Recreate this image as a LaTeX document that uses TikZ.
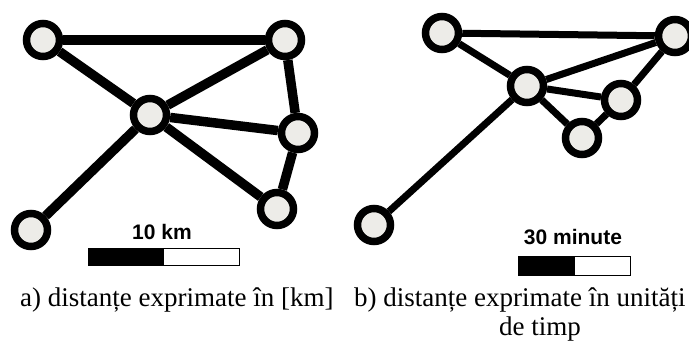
\documentclass[tikz,border=0pt]{standalone}
\usepackage{fontspec}
\setmainfont{Liberation Serif}
\newfontfamily\barfont{Liberation Sans}
\definecolor{nodefill}{HTML}{EDECE8}
\begin{document}
\begin{tikzpicture}[x=1pt, y=-1pt,
  town/.style={circle, draw=black, fill=nodefill, line width=7.5pt, minimum size=33pt, inner sep=0pt},
  road/.style={line width=9.5pt},
  link/.style={line width=7pt},
  barlabel/.style={font=\barfont\bfseries\fontsize{21}{24}\selectfont, inner sep=0pt},
  caption/.style={font=\fontsize{27}{31}\selectfont, inner sep=0pt, align=center}]
  \useasboundingbox (0,0) rectangle (689,342);

  % a) distances in km
  \node[town] (a1) at (43,40) {};
  \node[town] (a2) at (285,40) {};
  \node[town] (a3) at (150,115) {};
  \node[town] (a4) at (298,133) {};
  \node[town] (a5) at (277,209) {};
  \node[town] (a6) at (31,230) {};

  \draw[road] (a1) -- (a2);
  \draw[road] (a1) -- (a3);
  \draw[road] (a3) -- (a2);
  \draw[road] (a3) -- (a4);
  \draw[road] (a3) -- (a5);
  \draw[road] (a3) -- (a6);
  \draw[road] (a2) -- (a4);
  \draw[road] (a4) -- (a5);

  \node[barlabel] (kmlabel) at (162,232) {10 km};
  \fill (88,249) rectangle (164,266);
  \draw[line width=1pt] (88,249) rectangle (239,266);

  % b) distances in time units
  \node[town] (b1) at (442,33) {};
  \node[town] (b2) at (675,36) {};
  \node[town] (b3) at (527,86) {};
  \node[town] (b4) at (621,100) {};
  \node[town] (b5) at (582,138) {};
  \node[town] (b6) at (374,225) {};

  \draw[link] (b1) -- (b2);
  \draw[link] (b1) -- (b3);
  \draw[link] (b3) -- (b2);
  \draw[link] (b3) -- (b4);
  \draw[link] (b3) -- (b5);
  \draw[link] (b4) -- (b2);
  \draw[link] (b4) -- (b5);
  \draw[link] (b3) -- (b6);

  \node[barlabel] (minlabel) at (573,237) {30 minute};
  \fill (518,257) rectangle (575,276);
  \draw[line width=1pt] (518,257) rectangle (630,276);

  % captions
  \node[caption, anchor=west] (capa) at (20,300) {a) distanțe exprimate în [km]};
  \node[caption, anchor=west] (capb) at (354,300) {b) distanțe exprimate în unități};
  \node[caption] (capc) at (540,329) {de timp};
\end{tikzpicture}
\end{document}
